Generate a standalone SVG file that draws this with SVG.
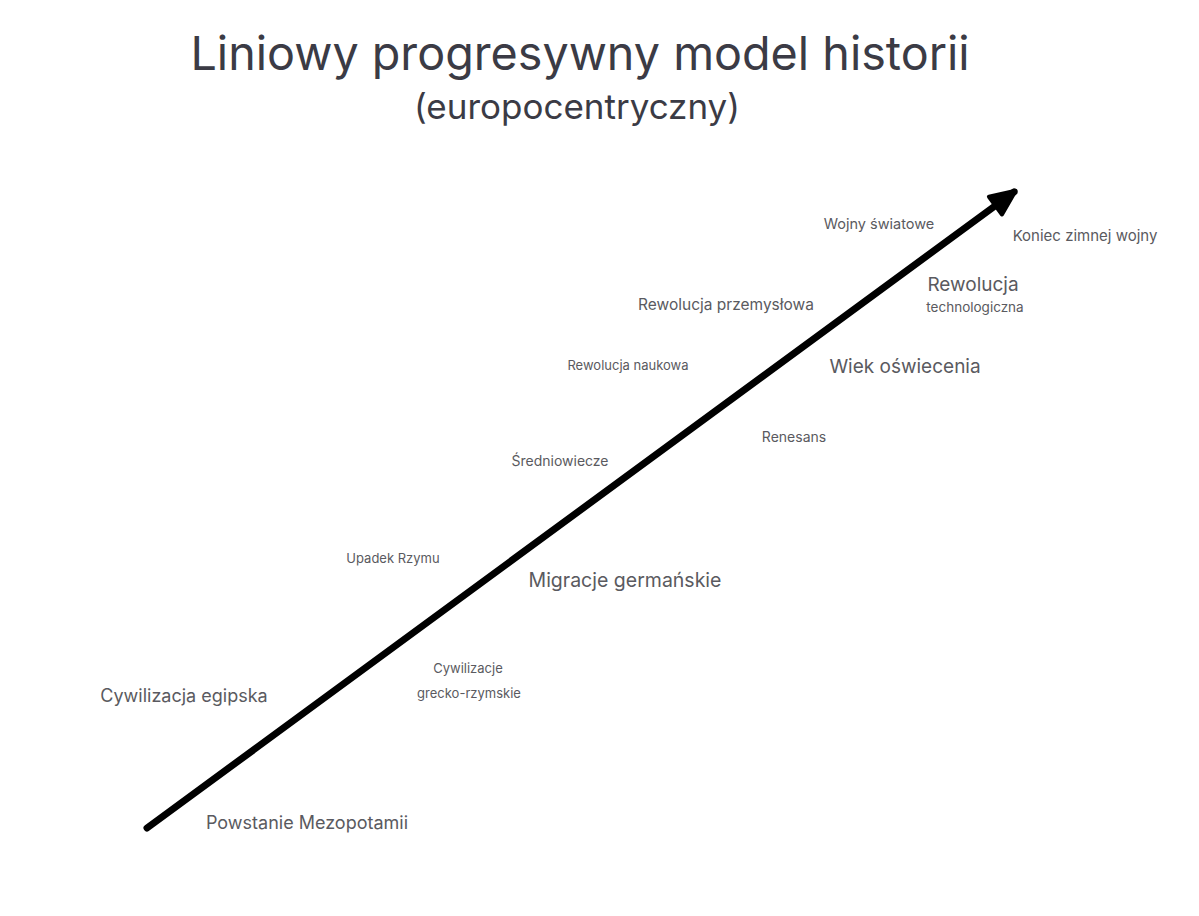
<svg xmlns="http://www.w3.org/2000/svg" width="1199" height="916" viewBox="0 0 1199 916">
<style>
text{font-family:Inter,"Noto Sans","Liberation Sans",sans-serif;text-anchor:middle}
.title{fill:#3b3b45;font-size:46.7px}
.sub{fill:#3b3b45;font-size:35px}
.lbl{fill:#5a5a60}
</style>
<defs>
<marker id="ah" markerUnits="userSpaceOnUse" markerWidth="36" markerHeight="36" refX="26" refY="14" orient="auto" viewBox="0 0 36 28">
<path d="M3,3 L28,14 L3,25 Z" fill="#000" stroke="#000" stroke-width="4" stroke-linejoin="round"/>
</marker>
</defs>
<rect width="1199" height="916" fill="#fff"/>
<g id="title">
<text class="title" x="580" y="70">Liniowy progresywny model historii</text>
<text class="sub" x="577" y="119">(europocentryczny)</text>
</g>
<g id="connectors">
<line x1="147" y1="828" x2="1014" y2="192" stroke="#000" stroke-width="7" stroke-linecap="round" marker-end="url(#ah)"/>
</g>
<g id="n-wojny"><text class="lbl" x="879" y="229" font-size="14.5">Wojny światowe</text></g>
<g id="n-koniec"><text class="lbl" x="1085" y="241" font-size="15">Koniec zimnej wojny</text></g>
<g id="n-rewtech"><text class="lbl" x="973" y="291" font-size="19">Rewolucja</text><text class="lbl" x="975" y="312" font-size="13.5">technologiczna</text></g>
<g id="n-rewprzem"><text class="lbl" x="726" y="310" font-size="15.5">Rewolucja przemysłowa</text></g>
<g id="n-rewnauk"><text class="lbl" x="628" y="370" font-size="13">Rewolucja naukowa</text></g>
<g id="n-oswiec"><text class="lbl" x="905" y="373" font-size="19">Wiek oświecenia</text></g>
<g id="n-renesans"><text class="lbl" x="794" y="442" font-size="14">Renesans</text></g>
<g id="n-sredn"><text class="lbl" x="560" y="466" font-size="14">Średniowiecze</text></g>
<g id="n-upadek"><text class="lbl" x="393" y="563" font-size="13">Upadek Rzymu</text></g>
<g id="n-migracje"><text class="lbl" x="625" y="587" font-size="19.5">Migracje germańskie</text></g>
<g id="n-grecko"><text class="lbl" x="468" y="673" font-size="13">Cywilizacje</text><text class="lbl" x="469" y="698" font-size="13">grecko-rzymskie</text></g>
<g id="n-egipt"><text class="lbl" x="184" y="702" font-size="18">Cywilizacja egipska</text></g>
<g id="n-mezop"><text class="lbl" x="307" y="829" font-size="18">Powstanie Mezopotamii</text></g>
</svg>
